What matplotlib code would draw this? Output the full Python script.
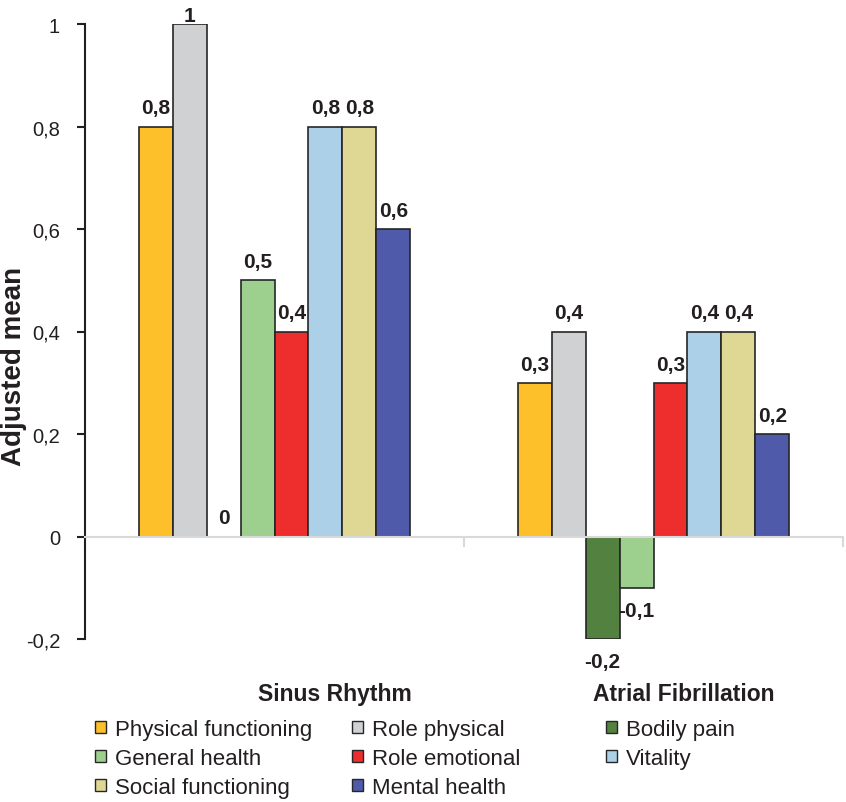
import matplotlib

matplotlib.use("Agg")

import matplotlib.pyplot as plt
import numpy as np
from matplotlib.patches import Patch

plt.rcParams["font.family"] = ["Liberation Sans", "DejaVu Sans"]

groups = ["Sinus Rhythm", "Atrial Fibrillation"]
series = [
    "Physical functioning",
    "Role physical",
    "Bodily pain",
    "General health",
    "Role emotional",
    "Vitality",
    "Social functioning",
    "Mental health",
]
sinus_rhythm = [0.8, 1.0, 0.0, 0.5, 0.4, 0.8, 0.8, 0.6]
atrial_fibrillation = [0.3, 0.4, -0.2, -0.1, 0.3, 0.4, 0.4, 0.2]
colors = ["#fdbf2a", "#d0d1d3", "#538140", "#9dd08f",
          "#ee2d2d", "#abd0e8", "#dfd894", "#4f5baa"]
y_ticks = [-0.2, 0, 0.2, 0.4, 0.6, 0.8, 1]

text_color = "#231f20"
values = np.array([sinus_rhythm, atrial_fibrillation])  # groups x series
y_min, y_max = -0.2, 1


def fmt(v):
    s = f"{v:g}"
    return s.replace(".", ",")


fig = plt.figure(figsize=(8.46, 8.03), dpi=100)
ax = fig.add_axes([85 / 846, 163 / 803, 758 / 846, 615 / 803])

x = np.arange(len(groups))
width = 0.0897
n = len(series)
for i, name in enumerate(series):
    pos = x + (i - (n - 1) / 2) * width
    bars = ax.bar(pos, values[:, i], width, color=colors[i],
                  edgecolor="#262626", linewidth=1.2, label=name, zorder=3)
    for rect, v in zip(bars, values[:, i]):
        cx = rect.get_x() + rect.get_width() / 2
        if v < 0:
            dy = -20
        elif v >= y_max:
            dy = 2.5  # squeezed in under the top edge
        else:
            dy = 9.5
        ax.annotate(fmt(v), (cx, v), xytext=(0, dy), textcoords="offset points",
                    ha="center", va="baseline", fontsize=15,
                    fontweight="bold", color=text_color)

ax.set_xlim(-0.5, len(groups) - 0.5)
ax.set_ylim(y_min, y_max)
ax.set_yticks(y_ticks)
ax.set_yticklabels([fmt(v) for v in y_ticks], fontsize=14.5, color=text_color)
ax.tick_params(axis="y", direction="out", length=6, width=1.5,
               color=text_color, pad=12)

# category axis sits on the zero line, ticks at the group boundaries
ax.spines["bottom"].set_position(("data", 0))
ax.spines["bottom"].set_color("#d9d9d9")
ax.spines["bottom"].set_linewidth(1.5)
ax.spines["bottom"].set_zorder(4)
ax.set_xticks(np.arange(len(groups) + 1) - 0.5)
ax.set_xticklabels([])
ax.tick_params(axis="x", direction="out", length=7, width=1.5, color="#d9d9d9")
ax.spines["left"].set_linewidth(1.5)
ax.spines["left"].set_color(text_color)
ax.spines["top"].set_visible(False)
ax.spines["right"].set_visible(False)

label_shift = [0.158, 0.079]
for i, g in enumerate(groups):
    ax.text(x[i] + label_shift[i], -0.306, g, ha="center", va="center",
            fontsize=16.5, fontweight="bold", color=text_color)

ax.set_ylabel("Adjusted mean", fontsize=20, fontweight="bold", color=text_color)
ax.yaxis.set_label_coords(-0.077, 0.4455)

# three legend columns laid out in row order
handles = [Patch(facecolor=c, edgecolor="#262626", linewidth=1.0) for c in colors]
col_x = [95, 352, 606]
for c in range(3):
    idx = list(range(c, n, 3))
    fig.legend([handles[k] for k in idx], [series[k] for k in idx],
               loc="upper left", bbox_to_anchor=(col_x[c] / 846, 83 / 803),
               frameon=False, fontsize=16, handlelength=0.5,
               handleheight=0.5, handletextpad=0.4, labelspacing=0.36,
               borderpad=0, borderaxespad=0, labelcolor=text_color)

fig.savefig("out.png", dpi=100)
